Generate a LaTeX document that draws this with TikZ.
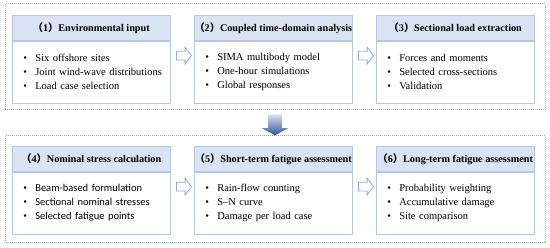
\documentclass[tikz,border=0pt]{standalone}
\usepackage{fontspec}
\setmainfont{Liberation Serif}
\setsansfont{Carlito}
\newfontfamily\cjk{Noto Sans CJK SC}
\usetikzlibrary{positioning, shapes.arrows, calc}
\definecolor{chead}{HTML}{DAE3F3}
\definecolor{cedge}{HTML}{B4C7E7}
\definecolor{cdot}{HTML}{8FAADC}
\definecolor{cdark}{HTML}{2F5597}
\newcommand\itm[1]{\hspace*{5.5pt}\makebox[12pt][l]{\rmfamily\textbullet}#1}
\newcommand\num[1]{{\cjk （}#1{\cjk ）}}
\tikzset{
  every picture/.style={font=\fontsize{10.5}{14}\selectfont, line width=0.6pt},
  head/.style={draw=cedge, fill=chead, minimum width=158pt, minimum height=25pt, inner sep=0pt, font=\fontsize{10.2}{12}\selectfont\bfseries, anchor=north west},
  body/.style={draw=cedge, fill=white, minimum width=158pt, minimum height=62pt, text width=147pt, inner xsep=5.5pt, inner ysep=0pt, align=left, below=0pt of #1},
  group/.style={draw=cdot, line width=1pt, dash pattern=on 1pt off 1pt},
  hollow/.style={shape=single arrow, draw=cdot, fill=white, line width=0.8pt, inner sep=4pt, minimum height=15pt, single arrow head extend=4pt, single arrow tip angle=106},
  down/.style={shape=single arrow, shape border rotate=270, draw=none, top color=cdot!35, bottom color=cdark, inner sep=6.5pt, minimum height=21pt, single arrow head extend=6.5pt, single arrow tip angle=123},
}
\begin{document}
\begin{tikzpicture}[x=1pt, y=-1pt]
  \useasboundingbox (0,0) rectangle (550,248);
  % stage frames
  \draw[group] (5,4) rectangle (545,110);
  \draw[group] (5,136) rectangle (545,243);
  % upper row
  \node[head] (h1) at (12,15) {\num{1}Environmental input};
  \node[body=h1] (b1) {\itm{Six offshore sites}\\ \itm{Joint wind-wave distributions}\\ \itm{Load case selection}};
  \node[head] (h2) at (194,15) {\num{2}Coupled time-domain analysis};
  \node[body=h2] (b2) {\itm{SIMA multibody model}\\ \itm{One-hour simulations}\\ \itm{Global responses}};
  \node[head] (h3) at (376,15) {\num{3}Sectional load extraction};
  \node[body=h3] (b3) {\itm{Forces and moments}\\ \itm{Selected cross-sections}\\ \itm{Validation}};
  % lower row
  \node[head] (h4) at (12,146) {\num{4}Nominal stress calculation};
  \node[body=h4, font=\sffamily\fontsize{10.5}{14}\selectfont] (b4) {\itm{Beam-based formulation}\\ \itm{Sectional nominal stresses}\\ \itm{Selected fatigue points}};
  \node[head] (h5) at (194,146) {\num{5}Short-term fatigue assessment};
  \node[body=h5] (b5) {\itm{Rain-flow counting}\\ \itm{S--N curve}\\ \itm{Damage per load case}};
  \node[head] (h6) at (376,146) {\num{6}Long-term fatigue assessment};
  \node[body=h6] (b6) {\itm{Probability weighting}\\ \itm{Accumulative damage}\\ \itm{Site comparison}};
  % arrows
  \foreach \a/\b in {1/2, 2/3, 4/5, 5/6}
    \node[hollow, yshift=-15pt] (ar\a\b) at ($(h\a.south east)!0.5!(h\b.south west)$) {};
  \node[down] (dn) at (275,123) {};
\end{tikzpicture}
\end{document}
